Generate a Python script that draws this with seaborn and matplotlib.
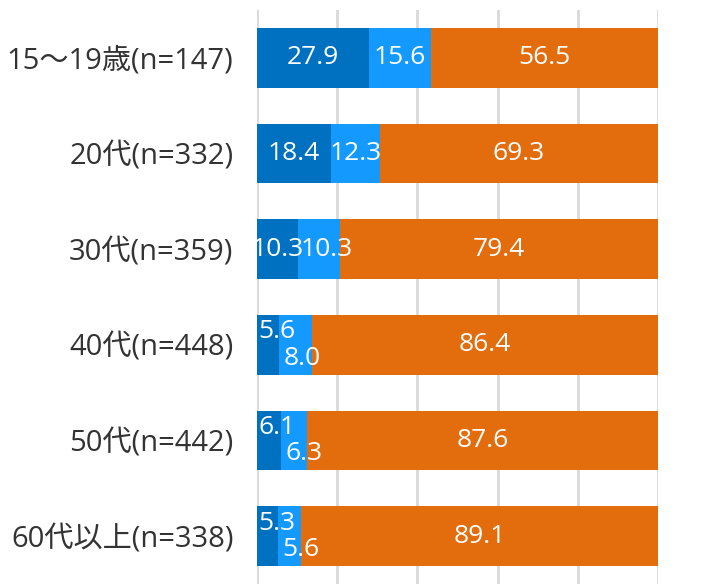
import matplotlib
matplotlib.use("Agg")
import matplotlib.pyplot as plt
import seaborn as sns
import pandas as pd
import numpy as np

# Age groups and the three response shares (%), stacked left to right
groups = ['15～19歳(n=147)', '20代(n=332)', '30代(n=359)',
          '40代(n=448)', '50代(n=442)', '60代以上(n=338)']
share_a = [27.9, 18.4, 10.3, 5.6, 6.1, 5.3]
share_b = [15.6, 12.3, 10.3, 8.0, 6.3, 5.6]
share_c = [56.5, 69.3, 79.4, 86.4, 87.6, 89.1]

colors = ['#0070C0', '#1499FF', '#E36C0C']

sns.set_theme(style="white")
plt.rcParams['font.family'] = ['Open Sans', 'Noto Sans CJK JP', 'DejaVu Sans']

df = pd.DataFrame({'group': groups, 'a': share_a, 'b': share_b, 'c': share_c})
series = ['a', 'b', 'c']
n = len(df)

fig = plt.figure(figsize=(7.12, 5.84), dpi=100)
ax = fig.add_axes([0.361, 0.0, 0.563, 0.983])

# cumulative bars drawn longest-last, then layered so shorter ones sit on top
cum = np.zeros(n)
for k, (s, col) in enumerate(zip(series, colors)):
    cum = cum + df[s].to_numpy()
    df['_end'] = cum
    sns.barplot(data=df, x='_end', y='group', color=col, width=0.625,
                orient='h', ax=ax, saturation=1, linewidth=0)
for k in range(3):
    for p in ax.patches[k * n:(k + 1) * n]:
        p.set_zorder(3 - k)

ax.set_xlim(0, 100)
ax.set_ylim(n - 0.5, -0.5)
ax.set_xticks([0, 20, 40, 60, 80, 100])
ax.xaxis.grid(True, color='#d9d9d9', linewidth=2)
ax.set_axisbelow(True)
ax.tick_params(axis='x', labelbottom=False, length=0)
ax.tick_params(axis='y', length=0, pad=17, labelsize=21, labelcolor='#333333')
ax.set_xlabel('')
ax.set_ylabel('')
for sp in ax.spines.values():
    sp.set_visible(False)

# value labels
lab_kw = dict(color='white', fontsize=19, va='center', clip_on=True, zorder=10)
for i in range(n):
    a, b, c = share_a[i], share_b[i], share_c[i]
    if a < 9:
        ax.text(0.3, i - 0.135, f'{a:.1f}', ha='left', **lab_kw)
        ax.text(a + 1.0, i + 0.14, f'{b:.1f}', ha='left', **lab_kw)
    else:
        ax.text(a / 2, i, f'{a:.1f}', ha='center', **lab_kw)
        if b < 12:
            ax.text(a + 0.5, i, f'{b:.1f}', ha='left', **lab_kw)
        else:
            ax.text(a + b / 2, i, f'{b:.1f}', ha='center', **lab_kw)
    ax.text(a + b + c / 2, i, f'{c:.1f}', ha='center', **lab_kw)

fig.savefig('out.png', dpi=100)
